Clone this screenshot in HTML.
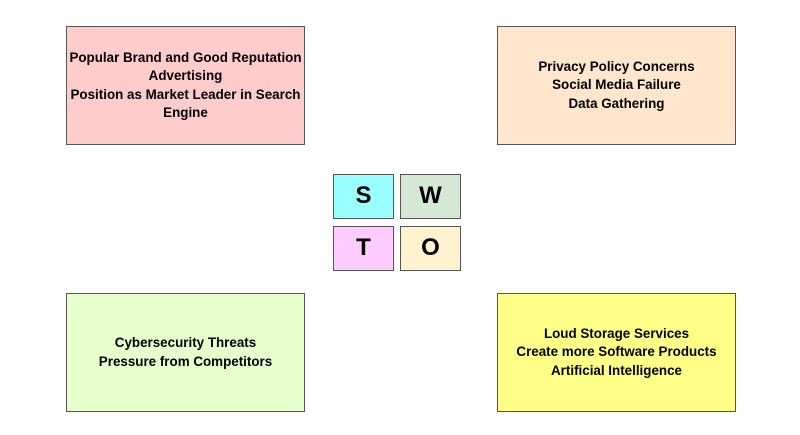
<!DOCTYPE html>
<html><head><meta charset="utf-8"><style>
body{margin:0;width:800px;height:435px;background:#fff;position:relative;font-family:"Liberation Sans",Arial,sans-serif;overflow:hidden}
.b{position:absolute;box-sizing:border-box;border:1px solid #555;display:flex;align-items:center;justify-content:center;text-align:center;font-weight:bold;font-size:13.4px;line-height:18.5px;color:#000}
.s{font-size:24px}
</style></head><body>
<div class="b" style="left:66px;top:26px;width:239px;height:119px;background:#ffcccc">Popular Brand and Good Reputation<br>Advertising<br>Position as Market Leader in Search<br>Engine</div>
<div class="b" style="left:497px;top:26px;width:239px;height:119px;background:#ffe6cc">Privacy Policy Concerns<br>Social Media Failure<br>Data Gathering</div>
<div class="b" style="left:66px;top:293px;width:239px;height:119px;background:#e6ffcc">Cybersecurity Threats<br>Pressure from Competitors</div>
<div class="b" style="left:497px;top:293px;width:239px;height:119px;background:#ffff88">Loud Storage Services<br>Create more Software Products<br>Artificial Intelligence</div>
<div class="b s" style="left:333px;top:174px;width:61px;height:45px;background:#99ffff">S</div>
<div class="b s" style="left:400px;top:174px;width:61px;height:45px;background:#d5e8d4">W</div>
<div class="b s" style="left:333px;top:226px;width:61px;height:45px;background:#ffccff">T</div>
<div class="b s" style="left:400px;top:226px;width:61px;height:45px;background:#fff2cc">O</div>
</body></html>
